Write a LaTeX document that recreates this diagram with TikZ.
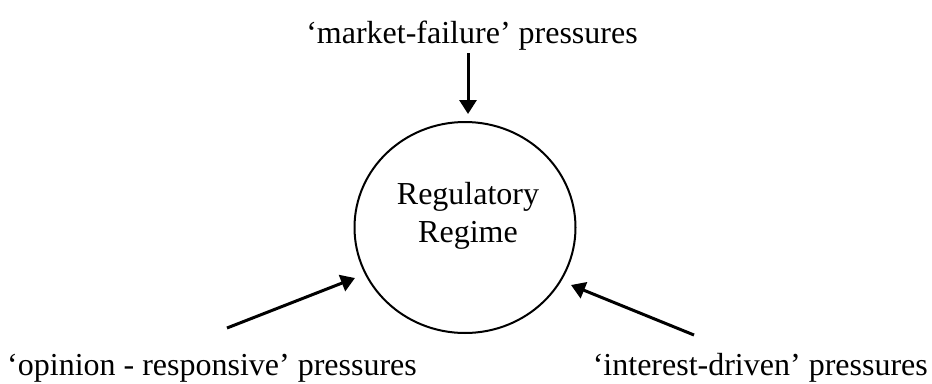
\documentclass[tikz,border=0pt]{standalone}
\usepackage{fontspec}
\setmainfont{Liberation Serif}
\usepackage{tikz}
\usetikzlibrary{arrows.meta,positioning,shapes.geometric}
\tikzset{
  regime/.style={ellipse,draw=black,line width=2pt,minimum width=221pt,minimum height=211pt,inner sep=0pt},
  lbl/.style={font=\fontsize{32}{38}\selectfont,inner sep=0pt,align=center},
  arr/.style={-{Triangle[length=14pt,width=17pt]},line width=3pt,draw=black},
}
\begin{document}
\begin{tikzpicture}[x=1pt,y=-1pt]
  \useasboundingbox (0,0) rectangle (932,383);
  \node[regime] (rr) at (465,227.5) {};
  \node[lbl] (rrtxt) at (468,216) {Regulatory\\Regime};
  % the three pressures
  \node[lbl,anchor=base] (mf) at (472,43) {`market-failure' pressures};
  \node[lbl,anchor=base west] (op) at (7,375) {`opinion - responsive' pressures};
  \node[lbl,anchor=base east] (id) at (928,375) {`interest-driven' pressures};
  \coordinate (mf-tail) at (468,53);
  \coordinate (op-tail) at (227,328);
  \coordinate (op-tip) at (355,278);
  \coordinate (id-tail) at (694,335);
  \coordinate (id-tip) at (571,285);
  \draw[arr,shorten >=7pt] (mf-tail) -- (rr.north -| mf-tail);
  \draw[arr] (op-tail) -- (op-tip);
  \draw[arr] (id-tail) -- (id-tip);
\end{tikzpicture}
\end{document}
